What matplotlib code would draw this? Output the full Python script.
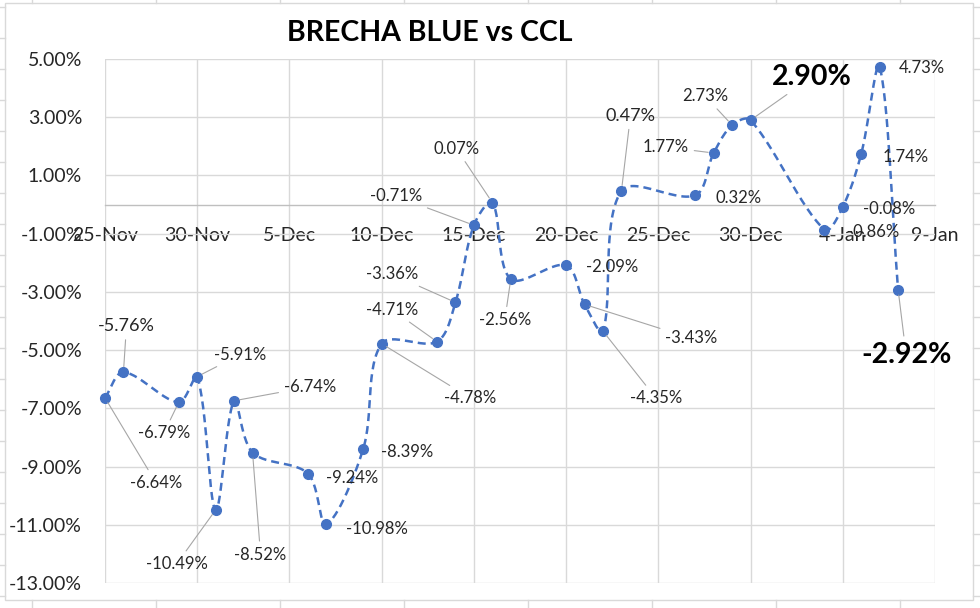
"""
Brecha blue vs CCL chart, Excel look.
"""
import numpy as np
import matplotlib
matplotlib.use("Agg")
import matplotlib.pyplot as plt
import matplotlib.dates as mdates
from matplotlib import ticker
from matplotlib.lines import Line2D
from matplotlib.patches import Rectangle
import datetime as dt

plt.rcParams['font.family'] = ['Lato', 'DejaVu Sans']

# data
dates = ["2021-11-25", "2021-11-26", "2021-11-29", "2021-11-30", "2021-12-01",
         "2021-12-02", "2021-12-03", "2021-12-06", "2021-12-07", "2021-12-09",
         "2021-12-10", "2021-12-13", "2021-12-14", "2021-12-15", "2021-12-16",
         "2021-12-17", "2021-12-20", "2021-12-21", "2021-12-22", "2021-12-23",
         "2021-12-27", "2021-12-28", "2021-12-29", "2021-12-30", "2022-01-03",
         "2022-01-04", "2022-01-05", "2022-01-06", "2022-01-07"]
brecha = [-6.64, -5.76, -6.79, -5.91, -10.49, -6.74, -8.52, -9.24, -10.98, -8.39,
          -4.78, -4.71, -3.36, -0.71, 0.07, -2.56, -2.09, -3.43, -4.35, 0.47,
          0.32, 1.77, 2.73, 2.90, -0.86, -0.08, 1.74, 4.73, -2.92]
y_ticks = [-13, -11, -9, -7, -5, -3, -1, 1, 3, 5]

# label placement (pixels from the point), leader on/off, size, bold
label_off = [(51, -85), (3, 46), (-15, -31), (43, 22), (-39, -54), (76, 14),
             (8, -102), (44, -4), (51, -5), (44, -3), (88, -54), (-45, 32),
             (-63, 28), (-78, 29), (-36, 54), (-6, -41), (46, -2), (107, -34),
             (53, -67), (9, 75), (43, -3), (-48, 6), (-27, 29), (61, 43),
             (49, -2), (46, -2), (44, -3), (42, -1), (8, -65)]
no_leader = {7, 8, 9, 16, 20, 24, 25, 26, 27}
big_labels = {1: 13, 19: 13}
bold_labels = {23, 28}

BLUE = "#4472C4"
GRID = "#d9d9d9"
TXT = "#262626"

W, H = 980, 608
fig = plt.figure(figsize=(W / 100, H / 100), dpi=100)
ax = fig.add_axes([105 / W, 1 - 583 / H, 830 / W, 524 / H])

x = mdates.date2num([dt.datetime.strptime(d, "%Y-%m-%d") for d in dates])
y = np.array(brecha)

x0 = mdates.date2num(dt.datetime(2021, 11, 25))
x1 = mdates.date2num(dt.datetime(2022, 1, 9))
ax.set_xlim(x0, x1)
ax.set_ylim(-13, 5)

ax.set_xticks(np.arange(x0, x1 + 0.5, 5))
def day_fmt(v, pos):
    d = mdates.num2date(v)
    return "{}-{}".format(d.day, d.strftime("%b"))
ax.xaxis.set_major_formatter(ticker.FuncFormatter(day_fmt))
ax.set_yticks(y_ticks)
ax.yaxis.set_major_formatter(ticker.FuncFormatter(lambda v, p: "{:.2f}%".format(v)))

for s in ["top", "right", "left"]:
    ax.spines[s].set_visible(False)
ax.spines["bottom"].set_position(("data", 0))
ax.spines["bottom"].set_color("#bfbfbf")
ax.spines["bottom"].set_linewidth(1.0)
ax.tick_params(axis="both", length=0, labelsize=14, colors=TXT, pad=16.5)
ax.grid(True, color=GRID, linewidth=1.0)
ax.set_axisbelow(True)

# smoothed line, bezier in screen space with tangents scaled by segment length
pts = ax.transData.transform(np.column_stack([x, y]))
curve = []
n = len(pts)
for i in range(n - 1):
    p0 = pts[max(i - 1, 0)]
    p1 = pts[i]
    p2 = pts[i + 1]
    p3 = pts[min(i + 2, n - 1)]
    d01 = np.hypot(*(p1 - p0))
    d12 = np.hypot(*(p2 - p1))
    d23 = np.hypot(*(p3 - p2))
    c1 = p1 + (p2 - p0) * d12 / max(d01 + d12, 1e-9) / 3.0
    c2 = p2 - (p3 - p1) * d12 / max(d12 + d23, 1e-9) / 3.0
    t = np.linspace(0, 1, 30)[:, None]
    seg = ((1 - t) ** 3) * p1 + 3 * ((1 - t) ** 2) * t * c1 + 3 * (1 - t) * t ** 2 * c2 + t ** 3 * p2
    curve.append(seg if i == 0 else seg[1:])
curve = ax.transData.inverted().transform(np.vstack(curve))
ax.plot(curve[:, 0], curve[:, 1], color=BLUE, lw=1.8, dashes=(3.2, 2.0),
        solid_capstyle="butt", zorder=3, clip_on=False)
ax.plot(x, y, "o", color=BLUE, markersize=7, zorder=4, clip_on=False)

for i, (xi, yi) in enumerate(zip(x, y)):
    size = big_labels.get(i, 12)
    weight = "normal"
    if i in bold_labels:
        size, weight = 20.5, "bold"
    arrow = None
    if i not in no_leader:
        arrow = dict(arrowstyle="-", color="#a6a6a6", lw=0.8,
                     shrinkA=2, shrinkB=4)
    ax.annotate("{:.2f}%".format(yi), (xi, yi), xytext=label_off[i],
                textcoords="offset pixels", ha="center", va="center",
                fontsize=size, fontweight=weight, color=TXT if weight == "normal" else "black",
                arrowprops=arrow, zorder=5, annotation_clip=False)

fig.text(430 / W, 1 - 33 / H, "BRECHA BLUE vs CCL", ha="center", va="center",
         fontsize=20.5, fontweight="bold", color="black")

# chart border and spreadsheet cells behind it
fig.patches.append(Rectangle((5 / W, 1 - 600 / H), 968 / W, 597 / H,
                             transform=fig.transFigure, fill=False,
                             edgecolor=GRID, linewidth=1.0))
for yy in range(7, 608, 31):
    fig.lines.append(Line2D([0, 5 / W], [1 - yy / H] * 2, transform=fig.transFigure, color=GRID, lw=1))
    fig.lines.append(Line2D([973 / W, 1], [1 - yy / H] * 2, transform=fig.transFigure, color=GRID, lw=1))
for xx in range(32, 980, 124):
    fig.lines.append(Line2D([xx / W] * 2, [1, 1 - 3 / H], transform=fig.transFigure, color=GRID, lw=1))
    fig.lines.append(Line2D([xx / W] * 2, [1 - 600 / H, 0], transform=fig.transFigure, color=GRID, lw=1))

fig.savefig("out.png", dpi=100)
